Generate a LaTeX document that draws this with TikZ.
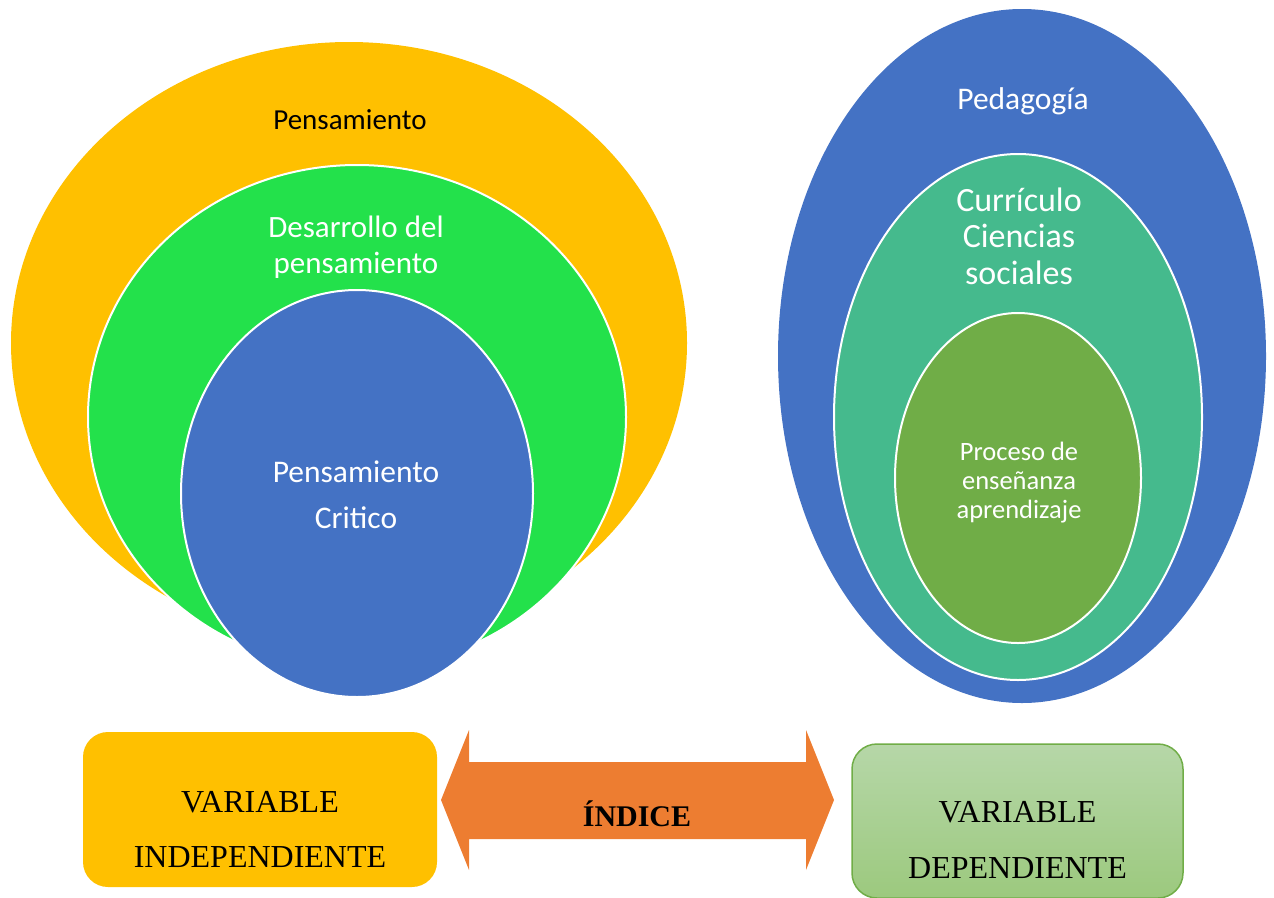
\documentclass[tikz,border=0pt]{standalone}
\usepackage{fontspec}
\setmainfont{Liberation Serif}
\newfontfamily\carlitofont{Carlito}
\usetikzlibrary{shapes.geometric}
\definecolor{gold}{HTML}{FFC000}
\definecolor{brightgreen}{HTML}{23E14B}
\definecolor{mblue}{HTML}{4472C4}
\definecolor{teal2}{HTML}{45BA8D}
\definecolor{leaf}{HTML}{70AD47}
\definecolor{arrowc}{HTML}{ED7D31}
\definecolor{boxtop}{HTML}{B6D7A8}
\definecolor{boxbot}{HTML}{9CC97E}
\tikzset{
  ell/.style={ellipse, inner sep=0pt, outer sep=0pt},
  wedge/.style={ell, draw=white, line width=2pt},
  lbl/.style={align=center, anchor=base, inner sep=0pt},
  boxtxt/.style={align=center, anchor=base, inner sep=0pt}
}
\begin{document}
\begin{tikzpicture}[x=1pt,y=-1pt]
\useasboundingbox (0,0) rectangle (1274,897);
% left group
\node[ell, fill=gold, minimum width=676, minimum height=602] (e1) at (349,343) {};
\node[wedge, fill=brightgreen, minimum width=538, minimum height=504] (e2) at (357,417) {};
\node[wedge, fill=mblue, minimum width=352, minimum height=407] (e3) at (357,493.5) {};
\node[lbl, text=black, font=\carlitofont\fontsize{29}{35}\selectfont] (t1) at (350,129) {Pensamiento};
\node[lbl, text=white, font=\carlitofont\fontsize{31}{35.5}\selectfont] (t2) at (356,273) {Desarrollo del\\pensamiento};
\node[lbl, text=white, font=\carlitofont\fontsize{31.5}{46}\selectfont] (t3) at (356,528) {Pensamiento\\Critico};
% right group
\node[ell, fill=mblue, minimum width=488, minimum height=694] (r1) at (1022,356) {};
\node[wedge, fill=teal2, minimum width=368, minimum height=526] (r2) at (1018,417) {};
\node[wedge, fill=leaf, minimum width=246, minimum height=330] (r3) at (1018,478) {};
\node[lbl, text=white, font=\carlitofont\fontsize{31.5}{36}\selectfont] (u1) at (1023,109) {Pedagogía};
\node[lbl, text=white, font=\carlitofont\fontsize{34}{36.5}\selectfont] (u2) at (1019,284) {Currículo\\Ciencias\\sociales};
\node[lbl, text=white, font=\carlitofont\fontsize{26.5}{29}\selectfont] (u3) at (1019,518) {Proceso de\\enseñanza\\aprendizaje};
% bottom boxes
\path[fill=gold, rounded corners=25pt] (83,732) rectangle (437,887);
\node[boxtxt, font=\fontsize{32}{55}\selectfont] (vi) at (260,867) {VARIABLE\\INDEPENDIENTE};
\path[top color=boxtop, bottom color=boxbot, draw=leaf, line width=1.5pt, rounded corners=25pt] (852,744) rectangle (1183,898);
\node[boxtxt, font=\fontsize{32}{56}\selectfont] (vd) at (1017.5,878) {VARIABLE\\DEPENDIENTE};
% double arrow
\path[fill=arrowc] (441,800) -- (469,730) -- (469,762) -- (806,762) -- (806,730) -- (834,800) -- (806,870) -- (806,839) -- (469,839) -- (469,870) -- cycle;
\node[boxtxt, font=\bfseries\fontsize{30}{30}\selectfont] (idx) at (637,826) {ÍNDICE};
\end{tikzpicture}
\end{document}
